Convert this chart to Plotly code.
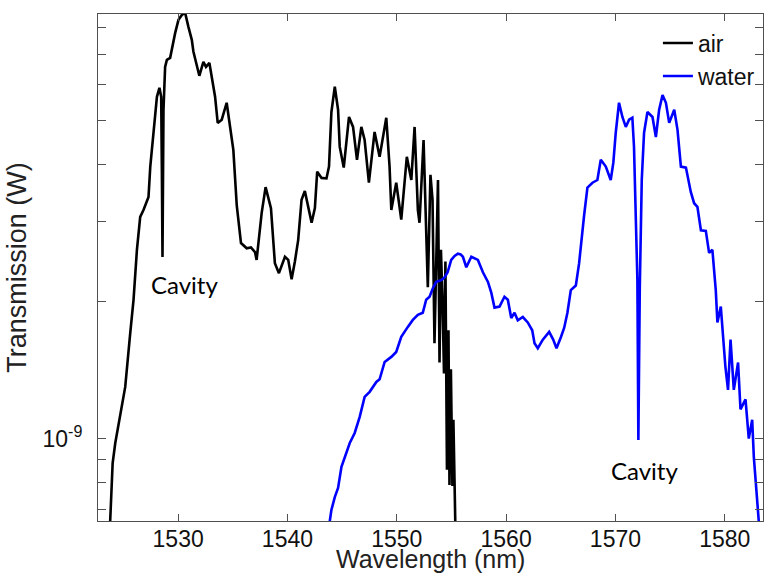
import plotly.graph_objects as go

# ---- data (wavelength in nm, transmission in nW) ----
air_wl = [1523.75, 1524.01, 1524.25, 1524.71, 1525.16, 1525.62, 1525.92, 1526.23, 1526.53, 1526.83,
          1527.29, 1527.45, 1527.75, 1528.06, 1528.29, 1528.45, 1528.51, 1528.57, 1528.66, 1528.81,
          1528.97, 1529.27, 1529.73, 1530.03, 1530.34, 1530.64, 1530.94, 1531.25, 1531.40, 1531.71,
          1531.94, 1532.31, 1532.55, 1532.86, 1533.07, 1533.38, 1533.62, 1533.99, 1534.44, 1534.74,
          1535.05, 1535.36, 1535.75, 1536.27, 1536.66, 1537.03, 1537.18, 1537.64, 1538.00, 1538.49,
          1538.85, 1539.22, 1539.77, 1540.07, 1540.38, 1540.68, 1540.98, 1541.29, 1541.59, 1541.90,
          1542.21, 1542.51, 1542.72, 1543.12, 1543.57, 1543.80, 1544.02, 1544.33, 1544.63, 1544.78,
          1545.15, 1545.63, 1546.00, 1546.36, 1546.76, 1547.06, 1547.45, 1547.97, 1548.43, 1549.04,
          1549.34, 1549.50, 1549.95, 1550.41, 1550.62, 1550.92, 1551.33, 1551.63, 1551.93, 1552.08,
          1552.45, 1552.69, 1552.84, 1553.08, 1553.27, 1553.45, 1553.63, 1553.77, 1553.91, 1554.04,
          1554.18, 1554.32, 1554.45, 1554.59, 1554.73, 1554.82, 1554.95, 1555.09, 1555.18, 1555.32,
          1555.37]
air_nw = [0.63, 0.884, 0.978, 1.139, 1.299, 1.708, 2.018, 2.598, 3.071, 3.18,
          3.398, 3.955, 4.698, 5.636, 5.899, 5.636, 3.955, 2.508, 5.277, 6.56,
          6.797, 6.866, 7.79, 8.32, 8.53, 8.62, 8.03, 7.52, 7.08, 6.56,
          6.27, 6.73, 6.56, 6.69, 6.24, 5.64, 4.94, 5.02, 5.47, 4.89,
          4.31, 3.26, 2.69, 2.62, 2.63, 2.57, 2.47, 3.13, 3.57, 3.21,
          2.43, 2.31, 2.51, 2.47, 2.24, 2.45, 2.73, 3.35, 3.50, 3.23,
          2.98, 3.21, 3.86, 3.74, 3.73, 3.96, 5.22, 5.93, 5.28, 4.38,
          3.94, 5.09, 4.84, 4.10, 4.84, 4.53, 3.65, 4.72, 4.16, 5.07,
          3.96, 3.18, 3.65, 3.03, 3.47, 4.16, 3.70, 4.84, 3.18, 2.98,
          4.53, 2.83, 2.15, 3.80, 3.35, 1.62, 2.87, 3.70, 1.47, 2.60,
          2.02, 1.39, 2.45, 0.854, 1.73, 0.791, 1.42, 0.787, 1.10, 0.646,
          0.62]

water_wl = [1543.82, 1544.02, 1544.33, 1544.63, 1544.94, 1545.24, 1545.70, 1546.15, 1546.61, 1547.06,
            1547.52, 1548.13, 1548.43, 1548.89, 1549.50, 1549.95, 1550.41, 1551.01, 1551.47, 1551.93,
            1552.38, 1552.69, 1553.00, 1553.30, 1553.61, 1554.07, 1554.37, 1554.65, 1554.98, 1555.29,
            1555.59, 1555.84, 1556.05, 1556.36, 1556.82, 1557.42, 1557.88, 1558.34, 1558.65, 1558.94,
            1559.40, 1559.85, 1560.16, 1560.47, 1560.77, 1561.07, 1561.53, 1561.98, 1562.39, 1562.60,
            1562.90, 1563.36, 1563.94, 1564.31, 1564.61, 1565.01, 1565.31, 1565.61, 1565.92, 1566.38,
            1566.68, 1567.14, 1567.44, 1567.90, 1568.35, 1568.66, 1569.12, 1569.57, 1569.81, 1570.03,
            1570.33, 1570.64, 1570.95, 1571.25, 1571.55, 1571.70, 1571.86, 1572.01, 1572.10, 1572.23,
            1572.41, 1572.62, 1572.93, 1573.39, 1573.70, 1574.00, 1574.31, 1574.62, 1574.92, 1575.38,
            1575.68, 1575.99, 1576.45, 1576.90, 1577.20, 1577.50, 1577.82, 1578.27, 1578.57, 1578.87,
            1579.18, 1579.33, 1579.64, 1579.79, 1580.06, 1580.30, 1580.53, 1580.83, 1581.22, 1581.44,
            1581.90, 1582.20, 1582.51, 1582.66, 1582.97, 1583.12, 1583.21]
water_nw = [0.646, 0.697, 0.744, 0.779, 0.867, 0.912, 0.978, 1.029, 1.116, 1.235,
            1.267, 1.332, 1.35, 1.474, 1.512, 1.55, 1.673, 1.76, 1.823, 1.87,
            1.89, 2.02, 2.05, 2.14, 2.21, 2.23, 2.26, 2.32, 2.47, 2.52,
            2.55, 2.54, 2.51, 2.38, 2.51, 2.47, 2.32, 2.21, 2.09, 1.94,
            1.95, 2.05, 2.02, 1.84, 1.89, 1.82, 1.85, 1.80, 1.73, 1.62,
            1.58, 1.65, 1.716, 1.65, 1.58, 1.67, 1.75, 1.89, 2.12, 2.17,
            2.43, 3.10, 3.56, 3.65, 3.70, 4.10, 3.96, 3.70, 4.04, 4.70,
            5.47, 5.09, 4.84, 5.02, 5.07, 4.38, 3.13, 2.23, 0.993, 2.15,
            3.70, 4.70, 5.22, 5.09, 4.60, 5.28, 5.69, 5.47, 4.94, 5.28,
            4.77, 3.96, 3.94, 3.48, 3.29, 3.23, 2.87, 2.86, 2.56, 2.60,
            2.12, 1.80, 1.95, 1.73, 1.44, 1.28, 1.65, 1.28, 1.47, 1.16,
            1.22, 1.00, 1.10, 0.912, 0.744, 0.663, 0.614]

x_ticks = [1530, 1540, 1550, 1560, 1570, 1580]
y_major_nw = [1]
y_minor_nw = [0.7, 0.8, 0.9, 2, 3, 4, 5, 6, 7, 8]
y_major_label = ["10<sup>-9</sup>"]
x_title = "Wavelength (nm)"
y_title = "Transmission (W)"

NW = 1e-9
air_w = [v * NW for v in air_nw]
water_w = [v * NW for v in water_nw]

FONT = "Liberation Sans, Arial, sans-serif"

fig = go.Figure()
fig.add_trace(go.Scatter(x=air_wl, y=air_w, mode="lines", name="air",
                         line=dict(color="#000000", width=2.6)))
fig.add_trace(go.Scatter(x=water_wl, y=water_w, mode="lines", name="water",
                         line=dict(color="#0000ff", width=2.6)))

fig.add_annotation(x=1530.6, y=-8.662, xref="x", yref="y", text="Cavity",
                   showarrow=False, font=dict(family="Lato", size=24, color="#000"))
fig.add_annotation(x=1572.7, y=-9.069, xref="x", yref="y", text="Cavity",
                   showarrow=False, font=dict(family="Lato", size=24, color="#000"))
# x-axis title as a paper annotation so it sits just below the tick labels
fig.add_annotation(x=0.5, y=-0.074, xref="paper", yref="paper", text=x_title,
                   showarrow=False, xanchor="center", yanchor="middle", borderpad=0,
                   font=dict(family=FONT, size=25, color="#222"))

axis_col = "#505050"
fig.update_xaxes(range=[1522.67, 1583.5], tickvals=x_ticks, automargin=False,
                 ticks="inside", ticklen=7, tickcolor=axis_col, tickwidth=1,
                 ticklabelstandoff=-3,
                 showline=True, linecolor=axis_col, linewidth=1, mirror="ticks",
                 showgrid=False, zeroline=False,
                 tickfont=dict(family=FONT, size=23, color="#111"))
fig.update_yaxes(type="log", range=[-9.181, -8.067], automargin=False,
                 tickvals=[v * NW for v in y_major_nw], ticktext=y_major_label,
                 ticks="inside", ticklen=8, tickcolor=axis_col, tickwidth=1,
                 minor=dict(tickvals=[v * NW for v in y_minor_nw], ticks="inside",
                            ticklen=8, tickcolor=axis_col, tickwidth=1, showgrid=False),
                 ticklabelstandoff=10,
                 showline=True, linecolor=axis_col, linewidth=1, mirror="ticks",
                 showgrid=False, zeroline=False,
                 tickfont=dict(family=FONT, size=23, color="#111"),
                 title=dict(text=y_title, standoff=8,
                            font=dict(family=FONT, size=27, color="#222")))

fig.update_layout(width=766, height=578, template="none",
                  paper_bgcolor="white", plot_bgcolor="white",
                  margin=dict(l=98, r=3, t=14, b=57),
                  legend=dict(x=0.842, y=0.985, xanchor="left", yanchor="top",
                              bgcolor="rgba(0,0,0,0)", borderwidth=0,
                              font=dict(family=FONT, size=23, color="#111"),
                              tracegroupgap=0))

fig.write_html("out.html", config={"displayModeBar": False},
               post_script="document.body.style.margin='0px';document.body.style.overflow='hidden';")
